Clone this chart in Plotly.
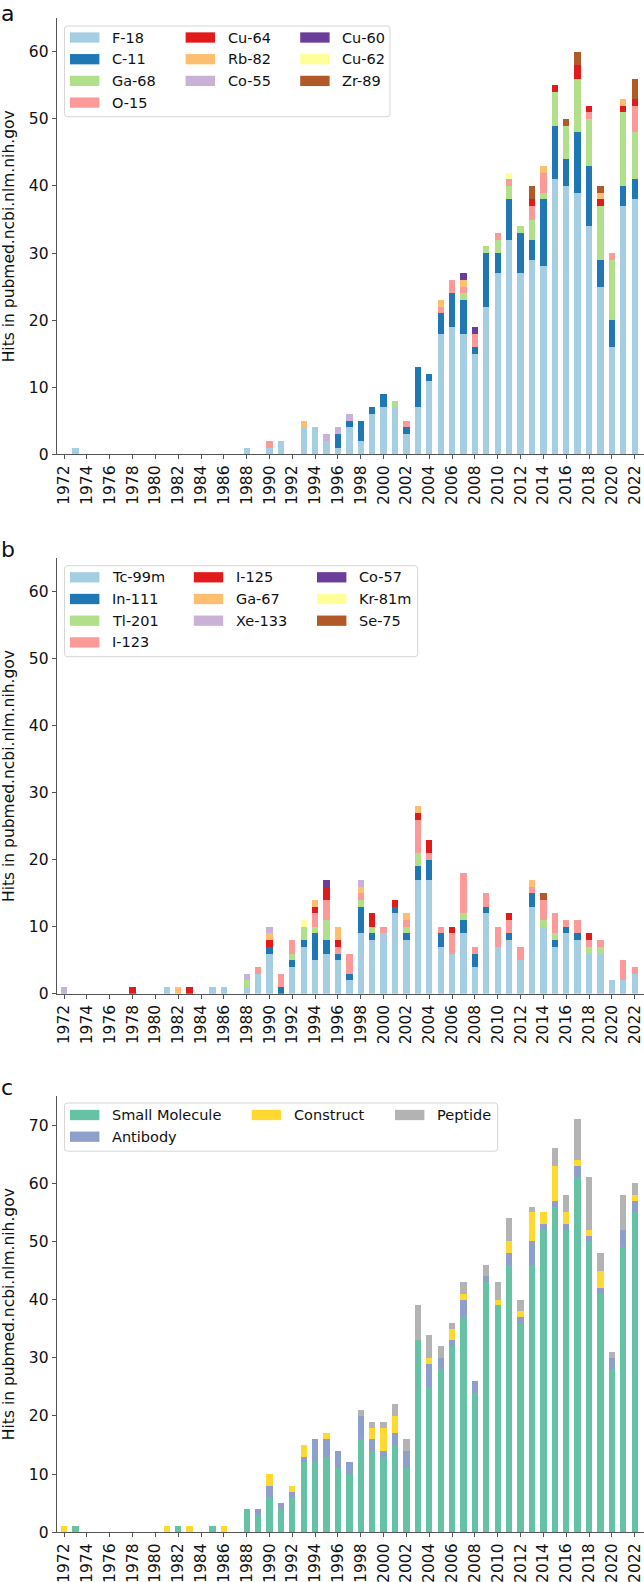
import plotly.graph_objects as go

W, H = 644, 1582
FONT = "DejaVu Sans"

YEARS = [str(y) for y in range(1972, 2023)]
TICK_YEARS = YEARS[::2]

# ---------------- Panel a : PET isotopes ----------------
PET_NAMES = ["F-18", "C-11", "Ga-68", "O-15", "Cu-64", "Rb-82", "Co-55", "Cu-60", "Cu-62", "Zr-89"]
F18 = [0, 1, 0, 0, 0, 0, 0, 0, 0, 0,
       0, 0, 0, 0, 0, 0, 1, 0, 1, 2,
       0, 4, 4, 2, 1, 4, 2, 6, 7, 7,
       3, 7, 11, 18, 19, 18, 15, 22, 27, 32,
       27, 29, 28, 41, 40, 39, 34, 25, 16, 37,
       38]
C11 = [0, 0, 0, 0, 0, 0, 0, 0, 0, 0,
       0, 0, 0, 0, 0, 0, 0, 0, 0, 0,
       0, 0, 0, 0, 2, 1, 3, 1, 2, 0,
       1, 6, 1, 3, 5, 5, 1, 8, 3, 6,
       6, 3, 10, 8, 4, 9, 9, 4, 4, 3,
       3]
GA68 = [0, 0, 0, 0, 0, 0, 0, 0, 0, 0,
        0, 0, 0, 0, 0, 0, 0, 0, 0, 0,
        0, 0, 0, 0, 0, 0, 0, 0, 0, 1,
        0, 0, 0, 0, 0, 1, 0, 1, 2, 2,
        1, 3, 1, 5, 5, 8, 7, 8, 9, 11,
        7]
O15 = [0, 0, 0, 0, 0, 0, 0, 0, 0, 0,
       0, 0, 0, 0, 0, 0, 0, 0, 1, 0,
       0, 0, 0, 0, 0, 0, 0, 0, 0, 0,
       1, 0, 0, 1, 2, 1, 2, 0, 1, 1,
       0, 2, 3, 0, 0, 0, 1, 0, 1, 0,
       4]
CU64 = [0, 0, 0, 0, 0, 0, 0, 0, 0, 0,
        0, 0, 0, 0, 0, 0, 0, 0, 0, 0,
        0, 0, 0, 0, 0, 0, 0, 0, 0, 0,
        0, 0, 0, 0, 0, 0, 0, 0, 0, 0,
        0, 1, 0, 1, 0, 2, 1, 1, 0, 1,
        1]
RB82 = [0, 0, 0, 0, 0, 0, 0, 0, 0, 0,
        0, 0, 0, 0, 0, 0, 0, 0, 0, 0,
        0, 1, 0, 0, 0, 0, 0, 0, 0, 0,
        0, 0, 0, 1, 0, 1, 0, 0, 0, 0,
        0, 0, 1, 0, 0, 0, 0, 1, 0, 1,
        0]
CO55 = [0, 0, 0, 0, 0, 0, 0, 0, 0, 0,
        0, 0, 0, 0, 0, 0, 0, 0, 0, 0,
        0, 0, 0, 1, 1, 1, 0, 0, 0, 0,
        0, 0, 0, 0, 0, 0, 0, 0, 0, 0,
        0, 0, 0, 0, 0, 0, 0, 0, 0, 0,
        0]
CU60 = [0, 0, 0, 0, 0, 0, 0, 0, 0, 0,
        0, 0, 0, 0, 0, 0, 0, 0, 0, 0,
        0, 0, 0, 0, 0, 0, 0, 0, 0, 0,
        0, 0, 0, 0, 0, 1, 1, 0, 0, 0,
        0, 0, 0, 0, 0, 0, 0, 0, 0, 0,
        0]
CU62 = [0, 0, 0, 0, 0, 0, 0, 0, 0, 0,
        0, 0, 0, 0, 0, 0, 0, 0, 0, 0,
        0, 0, 0, 0, 0, 0, 0, 0, 0, 0,
        0, 0, 0, 0, 0, 0, 0, 0, 0, 1,
        0, 0, 0, 0, 0, 0, 0, 0, 0, 0,
        0]
ZR89 = [0, 0, 0, 0, 0, 0, 0, 0, 0, 0,
        0, 0, 0, 0, 0, 0, 0, 0, 0, 0,
        0, 0, 0, 0, 0, 0, 0, 0, 0, 0,
        0, 0, 0, 0, 0, 0, 0, 0, 0, 0,
        0, 2, 0, 0, 1, 2, 0, 1, 0, 0,
        3]
PET_VALUES = [F18, C11, GA68, O15, CU64, RB82, CO55, CU60, CU62, ZR89]

# ---------------- Panel b : SPECT isotopes ----------------
SPECT_NAMES = ["Tc-99m", "In-111", "Tl-201", "I-123", "I-125", "Ga-67", "Xe-133", "Co-57", "Kr-81m", "Se-75"]
TC99M = [0, 0, 0, 0, 0, 0, 0, 0, 0, 1,
         0, 0, 0, 1, 1, 0, 1, 3, 6, 0,
         4, 7, 5, 6, 5, 2, 9, 8, 9, 12,
         8, 17, 17, 7, 6, 9, 4, 12, 7, 8,
         5, 13, 10, 7, 9, 8, 6, 6, 2, 2,
         3]
IN111 = [0, 0, 0, 0, 0, 0, 0, 0, 0, 0,
         0, 0, 0, 0, 0, 0, 0, 0, 1, 1,
         1, 1, 4, 2, 1, 1, 4, 1, 0, 1,
         1, 2, 3, 2, 0, 2, 2, 1, 0, 1,
         0, 2, 0, 1, 1, 1, 0, 0, 0, 0,
         0]
TL201 = [0, 0, 0, 0, 0, 0, 0, 0, 0, 0,
         0, 0, 0, 0, 0, 0, 1, 0, 0, 0,
         1, 2, 1, 3, 0, 0, 1, 1, 0, 0,
         1, 2, 0, 0, 0, 1, 0, 0, 0, 0,
         0, 0, 1, 1, 0, 0, 1, 1, 0, 0,
         0]
I123 = [0, 0, 0, 0, 0, 0, 0, 0, 0, 0,
        0, 0, 0, 0, 0, 0, 0, 1, 0, 2,
        2, 0, 2, 3, 1, 3, 1, 0, 1, 0,
        1, 5, 1, 1, 3, 6, 1, 2, 3, 2,
        2, 1, 3, 3, 1, 2, 1, 1, 0, 3,
        1]
I125 = [0, 0, 0, 0, 0, 0, 1, 0, 0, 0,
        0, 1, 0, 0, 0, 0, 0, 0, 1, 0,
        0, 0, 1, 2, 1, 0, 0, 2, 0, 1,
        0, 1, 2, 0, 1, 0, 0, 0, 0, 1,
        0, 0, 0, 0, 0, 0, 1, 0, 0, 0,
        0]
GA67 = [0, 0, 0, 0, 0, 0, 0, 0, 0, 0,
        1, 0, 0, 0, 0, 0, 0, 0, 1, 0,
        0, 0, 1, 0, 2, 0, 1, 0, 0, 0,
        1, 1, 0, 0, 0, 0, 0, 0, 0, 0,
        0, 1, 0, 0, 0, 0, 0, 0, 0, 0,
        0]
XE133 = [1, 0, 0, 0, 0, 0, 0, 0, 0, 0,
         0, 0, 0, 0, 0, 0, 1, 0, 1, 0,
         0, 0, 0, 0, 0, 0, 1, 0, 0, 0,
         0, 0, 0, 0, 0, 0, 0, 0, 0, 0,
         0, 0, 0, 0, 0, 0, 0, 0, 0, 0,
         0]
CO57 = [0, 0, 0, 0, 0, 0, 0, 0, 0, 0,
        0, 0, 0, 0, 0, 0, 0, 0, 0, 0,
        0, 0, 0, 1, 0, 0, 0, 0, 0, 0,
        0, 0, 0, 0, 0, 0, 0, 0, 0, 0,
        0, 0, 0, 0, 0, 0, 0, 0, 0, 0,
        0]
KR81M = [0, 0, 0, 0, 0, 0, 0, 0, 0, 0,
         0, 0, 0, 0, 0, 0, 0, 0, 0, 0,
         0, 1, 0, 0, 0, 0, 0, 0, 0, 0,
         0, 0, 0, 0, 0, 0, 0, 0, 0, 0,
         0, 0, 0, 0, 0, 0, 0, 0, 0, 0,
         0]
SE75 = [0, 0, 0, 0, 0, 0, 0, 0, 0, 0,
        0, 0, 0, 0, 0, 0, 0, 0, 0, 0,
        0, 0, 0, 0, 0, 0, 0, 0, 0, 0,
        0, 0, 0, 0, 0, 0, 0, 0, 0, 0,
        0, 0, 1, 0, 0, 0, 0, 0, 0, 0,
        0]
SPECT_VALUES = [TC99M, IN111, TL201, I123, I125, GA67, XE133, CO57, KR81M, SE75]

# ---------------- Panel c : compound classes ----------------
CLASS_NAMES = ["Small Molecule", "Antibody", "Construct", "Peptide"]
SMALL_MOLECULE = [0, 1, 0, 0, 0, 0, 0, 0, 0, 0,
                  1, 0, 0, 1, 0, 0, 4, 3, 6, 4,
                  6, 12, 12, 13, 11, 10, 16, 14, 13, 15,
                  11, 33, 25, 28, 32, 37, 24, 43, 39, 46,
                  36, 46, 52, 56, 52, 61, 50, 41, 28, 49,
                  55]
ANTIBODY = [0, 0, 0, 0, 0, 0, 0, 0, 0, 0,
            0, 0, 0, 0, 0, 0, 0, 1, 2, 1,
            1, 1, 4, 3, 3, 2, 4, 2, 1, 2,
            3, 0, 4, 2, 1, 3, 2, 1, 0, 2,
            1, 4, 1, 1, 1, 2, 1, 1, 2, 3,
            2]
CONSTRUCT = [1, 0, 0, 0, 0, 0, 0, 0, 0, 1,
             0, 1, 0, 0, 1, 0, 0, 0, 2, 0,
             1, 2, 0, 1, 0, 0, 0, 2, 4, 3,
             0, 0, 1, 0, 2, 1, 0, 0, 1, 2,
             1, 5, 2, 6, 2, 1, 1, 3, 0, 0,
             1]
PEPTIDE = [0, 0, 0, 0, 0, 0, 0, 0, 0, 0,
           0, 0, 0, 0, 0, 0, 0, 0, 0, 0,
           0, 0, 0, 0, 0, 0, 1, 1, 1, 2,
           2, 6, 4, 2, 1, 2, 0, 2, 3, 4,
           2, 1, 0, 3, 3, 7, 9, 3, 1, 6,
           2]
CLASS_VALUES = [SMALL_MOLECULE, ANTIBODY, CONSTRUCT, PEPTIDE]

PAIRED = ["#a6cee3", "#1f78b4", "#b2df8a", "#fb9a99", "#e31a1c",
          "#fdbf6f", "#cab2d6", "#6a3d9a", "#ffff99", "#b15928"]
SET2 = ["#66c2a5", "#8da0cb", "#ffd92f", "#b3b3b3"]

Y_TITLE = "Hits in pubmed.ncbi.nlm.nih.gov"


def fx(px):
    return px / W


def fy(py):
    return 1 - py / H


# layout geometry (pixels)
PANELS = [
    dict(letter="a", names=PET_NAMES, values=PET_VALUES, colors=PAIRED,
         top=18.3, bottom=454.3, ymax=65, ticks=[0, 10, 20, 30, 40, 50, 60],
         letter_top=0.0,
         leg_box=(64.5, 26.0, 390.0, 116.7), leg_cols=[70.0, 185.6, 300.2],
         leg_counts=[4, 3, 3], leg_row0=37.5),
    dict(letter="b", names=SPECT_NAMES, values=SPECT_VALUES, colors=PAIRED,
         top=558.3, bottom=993.7, ymax=65, ticks=[0, 10, 20, 30, 40, 50, 60],
         letter_top=535.8,
         leg_box=(64.5, 565.7, 417.7, 656.7), leg_cols=[70.0, 193.8, 317.0],
         leg_counts=[4, 3, 3], leg_row0=577.3),
    dict(letter="c", names=CLASS_NAMES, values=CLASS_VALUES, colors=SET2,
         top=1096.0, bottom=1532.3, ymax=75, ticks=[0, 10, 20, 30, 40, 50, 60, 70],
         letter_top=1073.5,
         leg_box=(64.5, 1103.0, 497.7, 1151.2), leg_cols=[70.0, 251.7, 395.0],
         leg_counts=[2, 1, 1], leg_row0=1115.0),
]

AXIS_LEFT = 56.7
X_RANGE = [-0.65, 50.82]
AXIS_COLOR = "#555555"
TICK_FONT = dict(family=FONT, size=15.5, color="#111111")

fig = go.Figure()
shapes = []
annotations = []
layout = dict(
    width=W, height=H, autosize=False,
    margin=dict(l=0, r=0, t=0, b=0, pad=0),
    paper_bgcolor="white", plot_bgcolor="white",
    barmode="stack", bargap=0.45,
    showlegend=False,
    font=dict(family=FONT, color="#111111"),
)

for i, p in enumerate(PANELS):
    n = "" if i == 0 else str(i + 1)
    xa, ya = "x" + n, "y" + n
    for name, vals, col in zip(p["names"], p["values"], p["colors"]):
        fig.add_trace(go.Bar(
            x=YEARS, y=vals, name=name, xaxis=xa, yaxis=ya,
            marker=dict(color=col, line=dict(width=0)),
            showlegend=False,
        ))
    layout["xaxis" + n] = dict(
        domain=[fx(AXIS_LEFT), 1.0], anchor=ya, type="category",
        range=X_RANGE, tickmode="array", tickvals=TICK_YEARS, ticktext=TICK_YEARS,
        tickangle=-90, ticks="outside", ticklen=4, tickwidth=1, tickcolor=AXIS_COLOR,
        showline=True, linecolor=AXIS_COLOR, linewidth=1, mirror=False,
        showgrid=False, zeroline=False, tickfont=TICK_FONT, automargin=False,
        fixedrange=True,
    )
    layout["yaxis" + n] = dict(
        domain=[fy(p["bottom"]), fy(p["top"])], anchor=xa,
        range=[0, p["ymax"]], tickmode="array", tickvals=p["ticks"],
        ticks="outside", ticklen=4, tickwidth=1, tickcolor=AXIS_COLOR,
        showline=True, linecolor=AXIS_COLOR, linewidth=1,
        showgrid=False, zeroline=False, tickfont=TICK_FONT, automargin=False,
        fixedrange=True,
    )
    # y-axis title
    annotations.append(dict(
        text=Y_TITLE, xref="paper", yref="paper",
        x=fx(9.0), y=fy((p["top"] + p["bottom"]) / 2), textangle=-90,
        xanchor="center", yanchor="middle", showarrow=False,
        font=dict(family=FONT, size=15.5, color="#111111"),
    ))
    # panel letter
    annotations.append(dict(
        text=p["letter"], xref="paper", yref="paper",
        x=0.0, y=fy(p["letter_top"]), xanchor="left", yanchor="top",
        showarrow=False, borderpad=0,
        font=dict(family=FONT, size=22, color="#111111"),
    ))
    # legend frame (rounded)
    x0, y0, x1, y1 = p["leg_box"]
    r = 3.0
    rx, ry = r / W, r / H
    L, R, T, B = fx(x0), fx(x1), fy(y0), fy(y1)
    path = (f"M{L + rx},{T} L{R - rx},{T} Q{R},{T} {R},{T - ry} "
            f"L{R},{B + ry} Q{R},{B} {R - rx},{B} L{L + rx},{B} "
            f"Q{L},{B} {L},{B + ry} L{L},{T - ry} Q{L},{T} {L + rx},{T} Z")
    shapes.append(dict(type="path", path=path, xref="paper", yref="paper",
                       fillcolor="rgba(255,255,255,0.8)",
                       line=dict(color="#d6d6d6", width=1), layer="above"))
    # legend entries (column-major, like the source figure)
    k = 0
    for c, cnt in enumerate(p["leg_counts"]):
        for rr in range(cnt):
            name, col = p["names"][k], p["colors"][k]
            k += 1
            cy = p["leg_row0"] + rr * 21.7
            sx = p["leg_cols"][c]
            shapes.append(dict(type="rect", xref="paper", yref="paper",
                               x0=fx(sx), x1=fx(sx + 29.4),
                               y0=fy(cy + 5.15), y1=fy(cy - 5.15),
                               fillcolor=col, line=dict(width=0), layer="above"))
            annotations.append(dict(
                text=name, xref="paper", yref="paper",
                x=fx(sx + 41.2), y=fy(cy), xanchor="left", yanchor="middle",
                showarrow=False, borderpad=0,
                font=dict(family=FONT, size=14.5, color="#111111"),
            ))

layout["shapes"] = shapes
layout["annotations"] = annotations
fig.update_layout(**layout)

fig.write_html(
    "out.html",
    config={"displayModeBar": False, "staticPlot": True},
    post_script="document.body.style.margin='0';document.body.style.padding='0';"
                "document.documentElement.style.overflow='hidden';",
)
